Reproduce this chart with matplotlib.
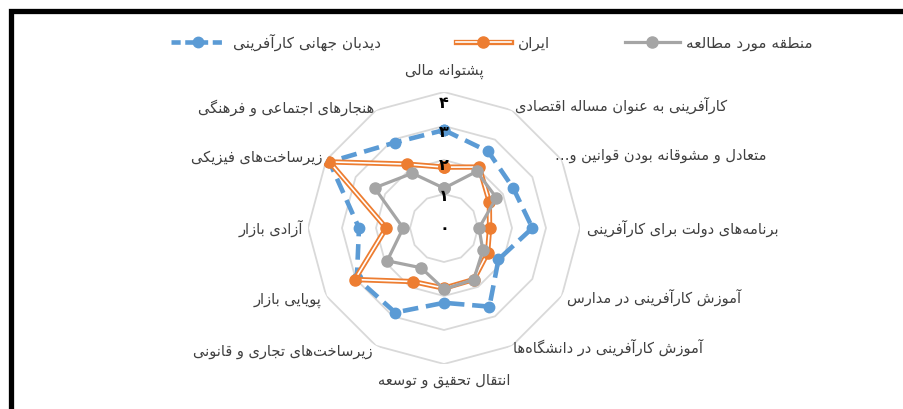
import numpy as np
import matplotlib
matplotlib.use("Agg")
import matplotlib.pyplot as plt
from matplotlib.lines import Line2D
from matplotlib.patches import Rectangle
from matplotlib.legend_handler import HandlerTuple

plt.rcParams['font.family'] = ['DejaVu Sans']

# ---------------- data ----------------
categories = [
    "پشتوانه مالی",
    "کارآفرینی به عنوان مساله اقتصادی",
    "متعادل و مشوقانه بودن قوانین و…",
    "برنامه\u200cهای دولت برای کارآفرینی",
    "آموزش کارآفرینی در مدارس",
    "آموزش کارآفرینی در دانشگاه\u200cها",
    "انتقال تحقیق و توسعه",
    "زیرساخت\u200cهای تجاری و قانونی",
    "پویایی بازار",
    "آزادی بازار",
    "زیرساخت\u200cهای فیزیکی",
    "هنجارهای اجتماعی و فرهنگی",
]
series_names = ["منطقه مورد مطالعه", "ایران", "دیدبان جهانی کارآفرینی"]
study_region = [1.17, 1.92, 1.78, 1.03, 1.32, 1.75, 1.80, 1.35, 1.93, 1.20, 2.36, 1.86]
iran = [1.79, 2.07, 1.54, 1.34, 1.48, 1.75, 1.77, 1.82, 3.03, 1.70, 3.89, 2.17]
gem = [2.88, 2.60, 2.35, 2.60, 1.85, 2.67, 2.20, 2.87, 2.96, 2.50, 3.89, 2.90]
tick_values = [0, 1, 2, 3, 4]
tick_labels = ["۰", "۱", "۲", "۳", "۴"]

# ---------------- simple Arabic/Persian shaping ----------------
FORMS = {
    'ا': ('\uFE8D', '\uFE8E', None, None),
    'آ': ('\uFE81', '\uFE82', None, None),
    'ب': ('\uFE8F', '\uFE90', '\uFE91', '\uFE92'),
    'پ': ('\uFB56', '\uFB57', '\uFB58', '\uFB59'),
    'ت': ('\uFE95', '\uFE96', '\uFE97', '\uFE98'),
    'ث': ('\uFE99', '\uFE9A', '\uFE9B', '\uFE9C'),
    'ج': ('\uFE9D', '\uFE9E', '\uFE9F', '\uFEA0'),
    'چ': ('\uFB7A', '\uFB7B', '\uFB7C', '\uFB7D'),
    'ح': ('\uFEA1', '\uFEA2', '\uFEA3', '\uFEA4'),
    'خ': ('\uFEA5', '\uFEA6', '\uFEA7', '\uFEA8'),
    'د': ('\uFEA9', '\uFEAA', None, None),
    'ذ': ('\uFEAB', '\uFEAC', None, None),
    'ر': ('\uFEAD', '\uFEAE', None, None),
    'ز': ('\uFEAF', '\uFEB0', None, None),
    'ژ': ('\uFB8A', '\uFB8B', None, None),
    'س': ('\uFEB1', '\uFEB2', '\uFEB3', '\uFEB4'),
    'ش': ('\uFEB5', '\uFEB6', '\uFEB7', '\uFEB8'),
    'ص': ('\uFEB9', '\uFEBA', '\uFEBB', '\uFEBC'),
    'ض': ('\uFEBD', '\uFEBE', '\uFEBF', '\uFEC0'),
    'ط': ('\uFEC1', '\uFEC2', '\uFEC3', '\uFEC4'),
    'ظ': ('\uFEC5', '\uFEC6', '\uFEC7', '\uFEC8'),
    'ع': ('\uFEC9', '\uFECA', '\uFECB', '\uFECC'),
    'غ': ('\uFECD', '\uFECE', '\uFECF', '\uFED0'),
    'ف': ('\uFED1', '\uFED2', '\uFED3', '\uFED4'),
    'ق': ('\uFED5', '\uFED6', '\uFED7', '\uFED8'),
    'ک': ('\uFB8E', '\uFB8F', '\uFB90', '\uFB91'),
    'گ': ('\uFB92', '\uFB93', '\uFB94', '\uFB95'),
    'ل': ('\uFEDD', '\uFEDE', '\uFEDF', '\uFEE0'),
    'م': ('\uFEE1', '\uFEE2', '\uFEE3', '\uFEE4'),
    'ن': ('\uFEE5', '\uFEE6', '\uFEE7', '\uFEE8'),
    'ه': ('\uFEE9', '\uFEEA', '\uFEEB', '\uFEEC'),
    'و': ('\uFEED', '\uFEEE', None, None),
    'ی': ('\uFBFC', '\uFBFD', '\uFBFE', '\uFBFF'),
}
LAMALEF = {'ا': ('\uFEFB', '\uFEFC'), 'آ': ('\uFEF5', '\uFEF6')}


def shape(text):
    chars = list(text)
    out = []
    i = 0
    n = len(chars)
    while i < n:
        c = chars[i]
        if c not in FORMS:
            if c != '\u200c':
                out.append(c)
            i += 1
            continue
        prev = chars[i - 1] if i > 0 else None
        join_prev = prev in FORMS and FORMS[prev][2] is not None
        if c == 'ل' and i + 1 < n and chars[i + 1] in LAMALEF:
            iso, fin = LAMALEF[chars[i + 1]]
            out.append(fin if join_prev else iso)
            i += 2
            continue
        nxt = chars[i + 1] if i + 1 < n else None
        iso, fin, ini, med = FORMS[c]
        join_next = ini is not None and nxt in FORMS
        if join_prev and join_next:
            out.append(med)
        elif join_prev:
            out.append(fin)
        elif join_next:
            out.append(ini)
        else:
            out.append(iso)
        i += 1
    return ''.join(reversed(out))


# ---------------- figure ----------------
W, H = 904, 409
fig = plt.figure(figsize=(W / 100, H / 100), dpi=100)
fig.patch.set_facecolor('white')

cx, cy, R = 444, 228, 136
ax = fig.add_axes([(cx - R) / W, (H - cy - R) / H, 2 * R / W, 2 * R / H],
                  projection='polar')
ax.set_theta_zero_location('N')
ax.set_theta_direction(-1)
ax.set_ylim(0, 4)
ax.set_xticks([])
ax.set_yticks([])
ax.grid(False)
ax.spines['polar'].set_visible(False)
ax.patch.set_alpha(0)

n = len(categories)
angles = np.arange(n) * 2 * np.pi / n
closed = np.append(angles, angles[0])

# polygon gridlines
for lvl in tick_values[1:]:
    ax.plot(closed, [lvl] * (n + 1), color='#d9d9d9', lw=1.3, zorder=1)

BLUE, ORANGE, GRAY = '#5b9bd5', '#ed7d31', '#a5a5a5'


def close(v):
    return list(v) + [v[0]]


# GEM series (blue dashed)
ax.plot(closed, close(gem), color=BLUE, lw=3.3, dashes=(3.4, 1.7),
        marker='o', ms=7.5, mfc=BLUE, mec=BLUE, zorder=2)
# Iran (orange double line)
ax.plot(closed, close(iran), color=ORANGE, lw=3.8, zorder=3,
        solid_joinstyle='miter')
ax.plot(closed, close(iran), color='white', lw=1.2, zorder=3.1)
ax.plot(closed, close(iran), ls='none', marker='o', ms=8, color=ORANGE,
        zorder=3.2)
# study region (gray)
ax.plot(closed, close(study_region), color=GRAY, lw=2.3, marker='o', ms=8,
        mfc=GRAY, mec=GRAY, zorder=4)

# radial tick labels
tick_r = [0.0, 0.92, 1.85, 2.8, 3.65]
for r, t in zip(tick_r, tick_labels):
    ax.text(0, r, t, ha='center', va='center', fontsize=11.5,
            fontweight='bold', color='black', zorder=6)

# category labels
lab_r = [4.62, 4.18, 3.9, 4.22, 4.15, 4.05, 4.5, 4.2, 4.17, 4.15, 4.14, 4.1]
lab_th = [0, 30, 57, 90, 119.5, 150, 180, 210, 239.5, 270, 300, 330]
for k, lab in enumerate(categories):
    th = np.deg2rad(lab_th[k])
    if k in (0, 6):
        ha = 'center'
    elif k < 6:
        ha = 'left'
    else:
        ha = 'right'
    ax.text(th, lab_r[k], shape(lab), ha=ha, va='center', fontsize=10.5,
            color='#404040')

# legend
h_gray = Line2D([], [], color=GRAY, lw=2.3, marker='o', ms=8)
h_or1 = Line2D([], [], color=ORANGE, lw=3.8)
h_or2 = Line2D([], [], color='white', lw=1.2)
h_or3 = Line2D([], [], ls='none', color=ORANGE, marker='o', ms=8)
h_blue = Line2D([], [], color=BLUE, lw=3.3, dashes=(2.0, 1.0), marker='o', ms=7.5)
leg = fig.legend([h_blue, (h_or1, h_or2, h_or3), h_gray],
                 [shape(series_names[2]), shape(series_names[1]), shape(series_names[0])],
                 loc='center', bbox_to_anchor=(492 / W, 1 - 42 / H), ncol=3,
                 frameon=False, fontsize=11, handlelength=3.6, handletextpad=0.45,
                 columnspacing=4.9, markerfirst=True,
                 handler_map={tuple: HandlerTuple(ndivide=1, pad=0)})
for t in leg.get_texts():
    t.set_color('#404040')

# outer border (partly cropped)
fig.patches.append(Rectangle((10.5 / W, -0.2), 1.5, (H - 10.5) / H + 0.2,
                             transform=fig.transFigure, fill=False,
                             edgecolor='black', lw=3.8, clip_on=False))

fig.savefig('out.png', dpi=100, facecolor='white')
